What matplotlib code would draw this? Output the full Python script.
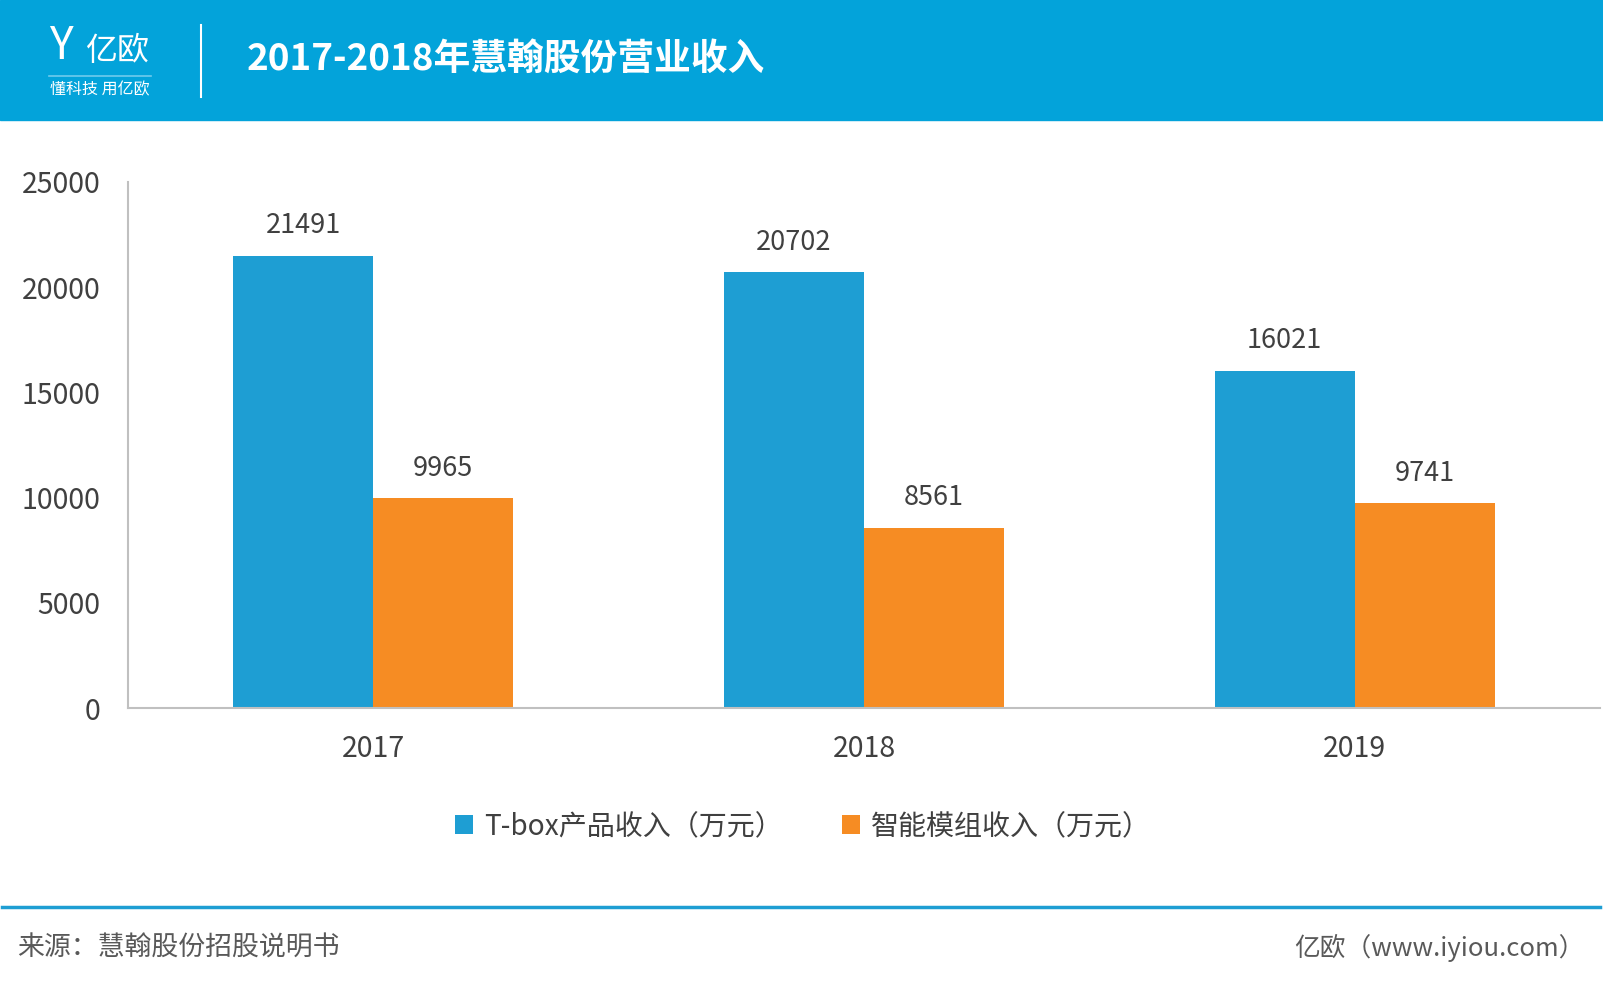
import matplotlib
matplotlib.use('Agg')
import matplotlib.pyplot as plt
import numpy as np
from matplotlib.patches import Rectangle

plt.rcParams['font.family'] = ['Noto Sans CJK SC', 'DejaVu Sans']

# data
years = ['2017', '2018', '2019']
tbox = [21491, 20702, 16021]
module = [9965, 8561, 9741]
series_names = ['T-box产品收入（万元）', '智能模组收入（万元）']
title = '2017-2018年慧翰股份营业收入'
source = '来源：慧翰股份招股说明书'
site = '亿欧（www.iyiou.com）'

blue = '#1e9ed3'
orange = '#f68c23'
header = '#03a3da'
txt = '#404040'

W, H = 1603, 986
fig = plt.figure(figsize=(W / 100, H / 100), dpi=100)

# header band
fig.patches.append(Rectangle((0, 1 - 120 / H), 1, 120 / H, transform=fig.transFigure,
                             color=header, zorder=0))
fig.text(247 / W, 1 - 59 / H, title, color='white', fontsize=26.5, fontweight='bold',
         va='center', ha='left')
# logo
fig.text(49 / W, 1 - 46 / H, 'Y', color='white', fontsize=32, va='center', ha='left')
fig.text(85 / W, 1 - 51 / H, '亿欧', color='white', fontsize=23, va='center', ha='left')
fig.add_artist(plt.Line2D([49 / W, 151 / W], [1 - 76 / H, 1 - 76 / H], color='#6fcbed',
                          lw=1.2, transform=fig.transFigure))
fig.text(50 / W, 1 - 90 / H, '懂科技 用亿欧', color='white', fontsize=11.5, va='center', ha='left')
fig.add_artist(plt.Line2D([201 / W, 201 / W], [1 - 25 / H, 1 - 97 / H], color='white',
                          lw=1.5, transform=fig.transFigure))

# axes
ax = fig.add_axes([128 / W, 1 - 708 / H, (1600 - 128) / W, (708 - 182) / H])
x = np.arange(len(years))
bw = 0.285
b1 = ax.bar(x - bw / 2, tbox, bw, color=blue, label=series_names[0])
b2 = ax.bar(x + bw / 2, module, bw, color=orange, label=series_names[1])
for bars, vals in ((b1, tbox), (b2, module)):
    for r, v in zip(bars, vals):
        ax.annotate(str(v), (r.get_x() + r.get_width() / 2, v), xytext=(0, 30),
                    textcoords='offset pixels', ha='center', va='center',
                    fontsize=19.5, color=txt)

ax.set_xlim(-0.5, 2.5)
ax.set_ylim(0, 25000)
ax.set_yticks(range(0, 25001, 5000))
ax.set_xticks(x)
ax.set_xticklabels(years)
for s in ['top', 'right']:
    ax.spines[s].set_visible(False)
for s in ['left', 'bottom']:
    ax.spines[s].set_color('#c0c0c0')
    ax.spines[s].set_linewidth(1.5)
ax.tick_params(length=0, labelsize=20.5, labelcolor=txt)
ax.tick_params(axis='y', pad=20)
ax.tick_params(axis='x', pad=19)

fig.legend(handles=[b1, b2], loc='center', bbox_to_anchor=(803 / W, 1 - 826 / H),
           ncol=2, frameon=False, fontsize=20.2, handlelength=0.65, handleheight=0.65,
           handletextpad=0.4, columnspacing=2.1, labelcolor=txt)

# footer
fig.add_artist(plt.Line2D([2 / W, 1600 / W], [1 - 907 / H, 1 - 907 / H], color=blue,
                          lw=2.5, transform=fig.transFigure))
fig.text(17 / W, 1 - 948 / H, source, color='#595959', fontsize=19.4, va='center', ha='left')
fig.text(1585 / W, 1 - 948 / H, site, color='#595959', fontsize=18.5, va='center', ha='right')

fig.savefig('out.png', dpi=100)
